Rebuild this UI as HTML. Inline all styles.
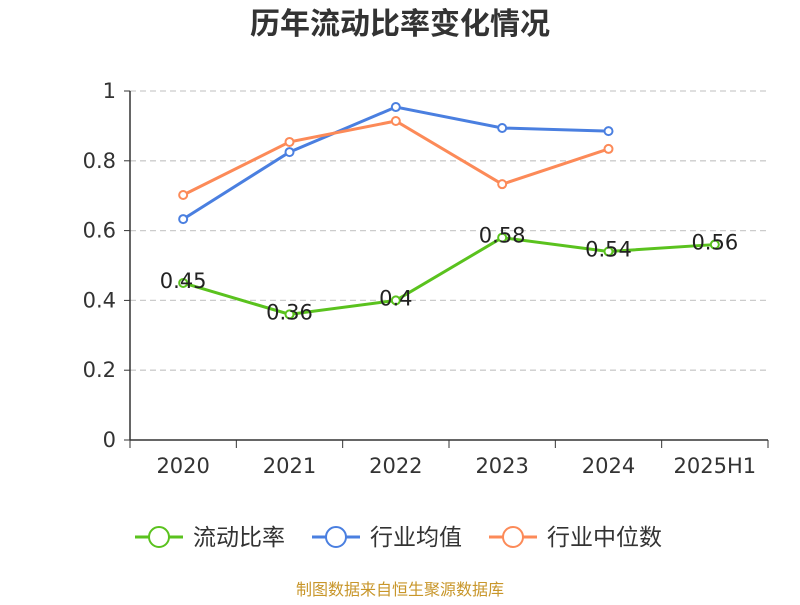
<!DOCTYPE html>
<html><head><meta charset="utf-8"><style>
body{margin:0;background:#fff;}
svg text{font-family:"DejaVu Sans","Noto Sans CJK SC",sans-serif;}
</style></head><body>
<svg id="c" width="800" height="600" xmlns="http://www.w3.org/2000/svg">
<text x="400" y="34" text-anchor="middle" font-size="30" font-weight="bold" fill="#333">历年流动比率变化情况</text>
<g id="grid"></g><g id="axes"></g><g id="series"></g>
<g id="legend"></g>
<text x="400" y="595" text-anchor="middle" font-size="16" fill="#c8962a">制图数据来自恒生聚源数据库</text>
</svg>
<script>
const categories=["2020","2021","2022","2023","2024","2025H1"];
const ratioValues=[0.45,0.36,0.40,0.58,0.54,0.56];
const ratioLabels=["0.45","0.36","0.4","0.58","0.54","0.56"];
const industryAvg=[0.633,0.825,0.954,0.894,0.885];
const industryMedian=[0.702,0.854,0.914,0.733,0.834];
const yTicks=[0,0.2,0.4,0.6,0.8,1];
const yTickLabels=["0","0.2","0.4","0.6","0.8","1"];
const NS="http://www.w3.org/2000/svg";
const x0=130,x1=768,y0=440,y1=91;
const bw=(x1-x0)/categories.length;
const X=i=>x0+bw*(i+0.5);
const Y=v=>y0-(v)*(y0-y1);
function mk(t,a,p){const e=document.createElementNS(NS,t);for(const k in a)e.setAttribute(k,a[k]);p.appendChild(e);return e;}
const grid=document.getElementById('grid'),axes=document.getElementById('axes'),ser=document.getElementById('series'),leg=document.getElementById('legend');
yTicks.forEach((v,i)=>{
 if(v>0){const l=mk('line',{x1:x0,x2:x1,y1:Y(v),y2:Y(v),stroke:'#ccc','stroke-dasharray':'6,4','stroke-width':1.3},grid);
 
 }
 const t=mk('text',{x:x0-14,y:Y(v)+7,'text-anchor':'end','font-size':21,fill:'#333'},axes);t.textContent=yTickLabels[i];
 
 
 mk('line',{x1:x0-6,x2:x0,y1:Y(v),y2:Y(v),stroke:'#333'},axes);
});
mk('line',{x1:x0,x2:x0,y1:y1,y2:y0,stroke:'#333','stroke-width':1.5},axes);
mk('line',{x1:x0,x2:x1,y1:y0,y2:y0,stroke:'#333','stroke-width':1.5},axes);
for(let i=0;i<=categories.length;i++)mk('line',{x1:x0+bw*i,x2:x0+bw*i,y1:y0,y2:y0+8,stroke:'#333'},axes);
categories.forEach((c,i)=>{const t=mk('text',{x:X(i),y:473,'text-anchor':'middle','font-size':21,fill:'#333'},axes);t.textContent=c;
 
 });
function line(vals,color,name){
 const g=mk('g',{},ser);
 
 
 mk('polyline',{points:vals.map((v,i)=>X(i)+','+Y(v)).join(' '),fill:'none',stroke:color,'stroke-width':3},g);
 vals.forEach((v,i)=>{const c=mk('circle',{cx:X(i),cy:Y(v),r:4,fill:'#fff',stroke:color,'stroke-width':2},g);
 
 });
}
line(industryAvg,'#4a7fe0','industry-average-line');
line(industryMedian,'#fc8a58','industry-median-line');
line(ratioValues,'#5ac21e','current-ratio-line');
ratioValues.forEach((v,i)=>{const t=mk('text',{x:X(i),y:Y(v)+5,'text-anchor':'middle','font-size':21,fill:'#222'},ser);t.textContent=ratioLabels[i];
 
 });
const items=[["流动比率","#5ac21e",135],["行业均值","#4a7fe0",312],["行业中位数","#fc8a58",489]];
items.forEach(([n,c,x])=>{const g=mk('g',{},leg);
 
 
 mk('line',{x1:x,x2:x+48,y1:537,y2:537,stroke:c,'stroke-width':3},g);
 mk('circle',{cx:x+24,cy:537,r:10,fill:'#fff',stroke:c,'stroke-width':2},g);
 const t=mk('text',{x:x+58,y:545,'font-size':23,fill:'#333'},g);t.textContent=n;});
</script>
</body></html>
